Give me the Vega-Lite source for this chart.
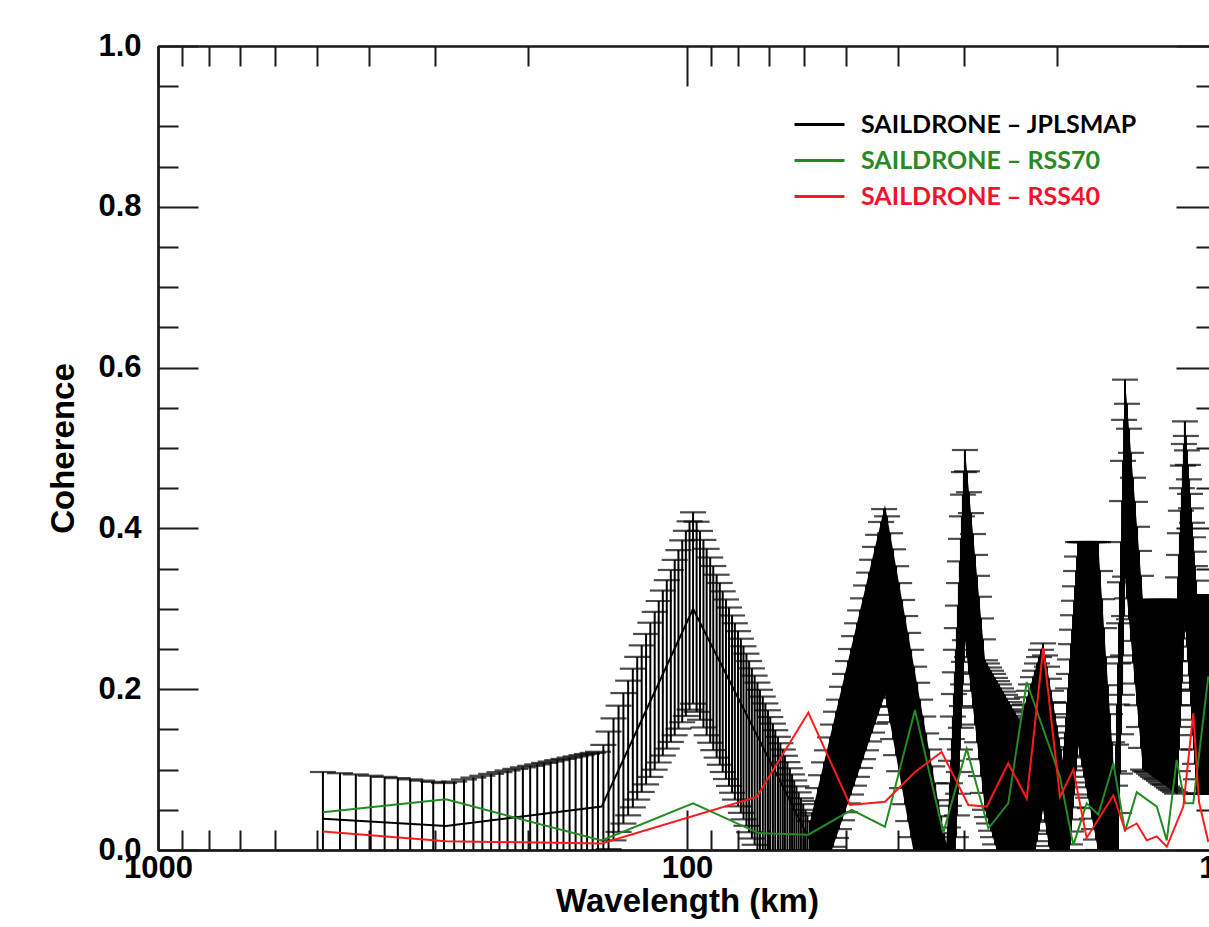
{
  "$schema": "https://vega.github.io/schema/vega-lite/v6.json",
  "width": 1058,
  "height": 804,
  "autosize": {"type": "none"},
  "padding": {"left": 158, "top": 46, "right": -7, "bottom": 77},
  "background": "white",
  "config": {
    "view": {"stroke": null},
    "axis": {
      "grid": false,
      "domainColor": "#1a1a1a",
      "domainWidth": 2,
      "tickColor": "#1a1a1a",
      "tickWidth": 2,
      "labelFont": "Liberation Sans",
      "labelFontWeight": "bold",
      "labelFontSize": 31,
      "labelColor": "black",
      "titleFont": "Liberation Sans",
      "titleFontWeight": "bold",
      "titleFontSize": 33,
      "titleColor": "black",
      "labelFlush": false,
      "labelOverlap": false,
      "labelBound": false
    }
  },
  "datasets": {
    "bars": [
      {"wl": 487.8, "lo": -0.02, "hi": 0.097},
      {"wl": 452.9, "lo": -0.02, "hi": 0.0955},
      {"wl": 422.7, "lo": -0.02, "hi": 0.094},
      {"wl": 396.2, "lo": -0.02, "hi": 0.0924},
      {"wl": 372.9, "lo": -0.021, "hi": 0.0909},
      {"wl": 352.1, "lo": -0.021, "hi": 0.0894},
      {"wl": 333.6, "lo": -0.022, "hi": 0.0878},
      {"wl": 316.9, "lo": -0.022, "hi": 0.0863},
      {"wl": 301.8, "lo": -0.023, "hi": 0.0848},
      {"wl": 288.0, "lo": -0.023, "hi": 0.0833},
      {"wl": 275.5, "lo": -0.023, "hi": 0.0851},
      {"wl": 264.0, "lo": -0.022, "hi": 0.0877},
      {"wl": 253.4, "lo": -0.022, "hi": 0.0901},
      {"wl": 243.7, "lo": -0.021, "hi": 0.0924},
      {"wl": 234.6, "lo": -0.021, "hi": 0.0947},
      {"wl": 226.2, "lo": -0.02, "hi": 0.0968},
      {"wl": 218.4, "lo": -0.02, "hi": 0.0989},
      {"wl": 211.1, "lo": -0.02, "hi": 0.1009},
      {"wl": 204.3, "lo": -0.019, "hi": 0.1028},
      {"wl": 197.9, "lo": -0.019, "hi": 0.1047},
      {"wl": 191.9, "lo": -0.018, "hi": 0.1065},
      {"wl": 186.3, "lo": -0.018, "hi": 0.1083},
      {"wl": 181.0, "lo": -0.018, "hi": 0.11},
      {"wl": 175.9, "lo": -0.017, "hi": 0.1117},
      {"wl": 171.2, "lo": -0.017, "hi": 0.1133},
      {"wl": 166.7, "lo": -0.017, "hi": 0.1149},
      {"wl": 162.4, "lo": -0.016, "hi": 0.1164},
      {"wl": 158.3, "lo": -0.016, "hi": 0.1179},
      {"wl": 154.5, "lo": -0.016, "hi": 0.1194},
      {"wl": 150.8, "lo": -0.015, "hi": 0.1208},
      {"wl": 147.3, "lo": -0.015, "hi": 0.1222},
      {"wl": 143.9, "lo": -0.0099, "hi": 0.1307},
      {"wl": 140.7, "lo": 0.0011, "hi": 0.1473},
      {"wl": 137.7, "lo": 0.012, "hi": 0.1637},
      {"wl": 134.7, "lo": 0.0225, "hi": 0.1795},
      {"wl": 131.9, "lo": 0.0329, "hi": 0.1952},
      {"wl": 129.2, "lo": 0.0431, "hi": 0.2106},
      {"wl": 126.6, "lo": 0.053, "hi": 0.2255},
      {"wl": 124.2, "lo": 0.0627, "hi": 0.2402},
      {"wl": 121.8, "lo": 0.0722, "hi": 0.2545},
      {"wl": 119.5, "lo": 0.0816, "hi": 0.2687},
      {"wl": 117.3, "lo": 0.0909, "hi": 0.2827},
      {"wl": 115.1, "lo": 0.0999, "hi": 0.2962},
      {"wl": 113.1, "lo": 0.1088, "hi": 0.3097},
      {"wl": 111.1, "lo": 0.1175, "hi": 0.3227},
      {"wl": 109.2, "lo": 0.1261, "hi": 0.3356},
      {"wl": 107.3, "lo": 0.1344, "hi": 0.3483},
      {"wl": 105.5, "lo": 0.1427, "hi": 0.3608},
      {"wl": 103.8, "lo": 0.1509, "hi": 0.373},
      {"wl": 102.1, "lo": 0.1589, "hi": 0.3852},
      {"wl": 100.5, "lo": 0.1667, "hi": 0.397},
      {"wl": 98.9, "lo": 0.1746, "hi": 0.4088},
      {"wl": 97.4, "lo": 0.182, "hi": 0.42},
      {"wl": 95.9, "lo": 0.1719, "hi": 0.4083},
      {"wl": 94.5, "lo": 0.162, "hi": 0.3969},
      {"wl": 93.1, "lo": 0.1524, "hi": 0.3857},
      {"wl": 91.8, "lo": 0.1427, "hi": 0.3746},
      {"wl": 90.4, "lo": 0.1334, "hi": 0.3638},
      {"wl": 89.2, "lo": 0.1242, "hi": 0.3532},
      {"wl": 87.9, "lo": 0.1149, "hi": 0.3424},
      {"wl": 86.7, "lo": 0.106, "hi": 0.3321},
      {"wl": 85.6, "lo": 0.097, "hi": 0.3217},
      {"wl": 84.4, "lo": 0.0883, "hi": 0.3116},
      {"wl": 83.3, "lo": 0.0797, "hi": 0.3016},
      {"wl": 82.2, "lo": 0.0712, "hi": 0.2917},
      {"wl": 81.2, "lo": 0.0627, "hi": 0.282},
      {"wl": 80.1, "lo": 0.0543, "hi": 0.2722},
      {"wl": 79.1, "lo": 0.0462, "hi": 0.2628},
      {"wl": 78.2, "lo": 0.0381, "hi": 0.2534},
      {"wl": 77.2, "lo": 0.0301, "hi": 0.2442},
      {"wl": 76.3, "lo": 0.0221, "hi": 0.235},
      {"wl": 75.4, "lo": 0.0143, "hi": 0.2259},
      {"wl": 74.5, "lo": 0.0065, "hi": 0.2169},
      {"wl": 73.6, "lo": -0.001, "hi": 0.2082},
      {"wl": 72.8, "lo": -0.0087, "hi": 0.1993},
      {"wl": 71.9, "lo": -0.0161, "hi": 0.1908},
      {"wl": 71.1, "lo": -0.0234, "hi": 0.1823},
      {"wl": 70.3, "lo": -0.0308, "hi": 0.1738},
      {"wl": 69.6, "lo": -0.038, "hi": 0.1654},
      {"wl": 68.8, "lo": -0.0451, "hi": 0.1572},
      {"wl": 68.1, "lo": -0.0522, "hi": 0.149},
      {"wl": 67.3, "lo": -0.0592, "hi": 0.1408},
      {"wl": 66.6, "lo": -0.0661, "hi": 0.1328},
      {"wl": 65.9, "lo": -0.0729, "hi": 0.125},
      {"wl": 65.3, "lo": -0.0797, "hi": 0.1172},
      {"wl": 64.6, "lo": -0.0864, "hi": 0.1093},
      {"wl": 63.9, "lo": -0.0931, "hi": 0.1017},
      {"wl": 63.3, "lo": -0.0997, "hi": 0.094},
      {"wl": 62.7, "lo": -0.1062, "hi": 0.0865},
      {"wl": 62.1, "lo": -0.1125, "hi": 0.0792},
      {"wl": 61.5, "lo": -0.119, "hi": 0.0717},
      {"wl": 60.9, "lo": -0.1253, "hi": 0.0644},
      {"wl": 60.3, "lo": -0.1316, "hi": 0.0571},
      {"wl": 59.7, "lo": -0.1378, "hi": 0.05},
      {"wl": 59.2, "lo": -0.1438, "hi": 0.043},
      {"wl": 58.6, "lo": -0.15, "hi": 0.0359},
      {"wl": 58.04, "lo": -0.073, "hi": 0.046},
      {"wl": 57.29, "lo": -0.062, "hi": 0.061},
      {"wl": 56.54, "lo": -0.051, "hi": 0.077},
      {"wl": 55.81, "lo": -0.04, "hi": 0.093},
      {"wl": 55.08, "lo": -0.029, "hi": 0.109},
      {"wl": 54.37, "lo": -0.018, "hi": 0.124},
      {"wl": 53.66, "lo": -0.007, "hi": 0.14},
      {"wl": 52.96, "lo": 0.004, "hi": 0.156},
      {"wl": 52.28, "lo": 0.015, "hi": 0.172},
      {"wl": 51.6, "lo": 0.026, "hi": 0.187},
      {"wl": 50.93, "lo": 0.037, "hi": 0.203},
      {"wl": 50.27, "lo": 0.047, "hi": 0.219},
      {"wl": 49.61, "lo": 0.058, "hi": 0.235},
      {"wl": 48.97, "lo": 0.069, "hi": 0.25},
      {"wl": 48.33, "lo": 0.08, "hi": 0.266},
      {"wl": 47.7, "lo": 0.091, "hi": 0.282},
      {"wl": 47.08, "lo": 0.102, "hi": 0.298},
      {"wl": 46.47, "lo": 0.113, "hi": 0.313},
      {"wl": 45.87, "lo": 0.124, "hi": 0.329},
      {"wl": 45.27, "lo": 0.135, "hi": 0.345},
      {"wl": 44.68, "lo": 0.146, "hi": 0.361},
      {"wl": 44.1, "lo": 0.157, "hi": 0.377},
      {"wl": 43.53, "lo": 0.168, "hi": 0.392},
      {"wl": 42.97, "lo": 0.178, "hi": 0.408},
      {"wl": 42.41, "lo": 0.189, "hi": 0.424},
      {"wl": 41.86, "lo": 0.179, "hi": 0.415},
      {"wl": 41.31, "lo": 0.159, "hi": 0.394},
      {"wl": 40.78, "lo": 0.138, "hi": 0.374},
      {"wl": 40.25, "lo": 0.118, "hi": 0.353},
      {"wl": 39.72, "lo": 0.098, "hi": 0.332},
      {"wl": 39.21, "lo": 0.077, "hi": 0.311},
      {"wl": 38.7, "lo": 0.057, "hi": 0.291},
      {"wl": 38.19, "lo": 0.036, "hi": 0.27},
      {"wl": 37.7, "lo": 0.016, "hi": 0.249},
      {"wl": 37.21, "lo": -0.005, "hi": 0.228},
      {"wl": 36.72, "lo": -0.025, "hi": 0.208},
      {"wl": 36.25, "lo": -0.046, "hi": 0.187},
      {"wl": 35.77, "lo": -0.066, "hi": 0.166},
      {"wl": 35.31, "lo": -0.087, "hi": 0.145},
      {"wl": 34.85, "lo": -0.107, "hi": 0.125},
      {"wl": 34.4, "lo": -0.128, "hi": 0.104},
      {"wl": 33.95, "lo": -0.148, "hi": 0.083},
      {"wl": 33.51, "lo": -0.169, "hi": 0.062},
      {"wl": 33.07, "lo": -0.189, "hi": 0.042},
      {"wl": 32.64, "lo": -0.21, "hi": 0.021},
      {"wl": 32.26, "lo": -0.23, "hi": 0.0},
      {"wl": 32.12, "lo": -0.203, "hi": 0.028},
      {"wl": 31.98, "lo": -0.175, "hi": 0.055},
      {"wl": 31.84, "lo": -0.148, "hi": 0.083},
      {"wl": 31.7, "lo": -0.121, "hi": 0.111},
      {"wl": 31.57, "lo": -0.094, "hi": 0.138},
      {"wl": 31.43, "lo": -0.066, "hi": 0.166},
      {"wl": 31.29, "lo": -0.039, "hi": 0.194},
      {"wl": 31.16, "lo": -0.012, "hi": 0.221},
      {"wl": 31.02, "lo": 0.016, "hi": 0.249},
      {"wl": 30.89, "lo": 0.043, "hi": 0.276},
      {"wl": 30.75, "lo": 0.07, "hi": 0.304},
      {"wl": 30.62, "lo": 0.097, "hi": 0.332},
      {"wl": 30.49, "lo": 0.125, "hi": 0.359},
      {"wl": 30.35, "lo": 0.152, "hi": 0.387},
      {"wl": 30.22, "lo": 0.179, "hi": 0.415},
      {"wl": 30.09, "lo": 0.206, "hi": 0.442},
      {"wl": 29.96, "lo": 0.234, "hi": 0.47},
      {"wl": 29.83, "lo": 0.261, "hi": 0.4975},
      {"wl": 29.56, "lo": 0.24, "hi": 0.471},
      {"wl": 29.31, "lo": 0.219, "hi": 0.445},
      {"wl": 29.05, "lo": 0.198, "hi": 0.419},
      {"wl": 28.8, "lo": 0.177, "hi": 0.393},
      {"wl": 28.55, "lo": 0.156, "hi": 0.367},
      {"wl": 28.3, "lo": 0.134, "hi": 0.341},
      {"wl": 28.06, "lo": 0.113, "hi": 0.315},
      {"wl": 27.81, "lo": 0.092, "hi": 0.288},
      {"wl": 27.57, "lo": 0.071, "hi": 0.262},
      {"wl": 27.33, "lo": 0.05, "hi": 0.236},
      {"wl": 27.1, "lo": 0.041, "hi": 0.232},
      {"wl": 26.86, "lo": 0.033, "hi": 0.227},
      {"wl": 26.63, "lo": 0.024, "hi": 0.223},
      {"wl": 26.4, "lo": 0.016, "hi": 0.219},
      {"wl": 26.17, "lo": 0.007, "hi": 0.214},
      {"wl": 25.94, "lo": -0.001, "hi": 0.21},
      {"wl": 25.72, "lo": -0.01, "hi": 0.206},
      {"wl": 25.49, "lo": -0.019, "hi": 0.201},
      {"wl": 25.27, "lo": -0.027, "hi": 0.197},
      {"wl": 25.05, "lo": -0.036, "hi": 0.193},
      {"wl": 24.84, "lo": -0.044, "hi": 0.188},
      {"wl": 24.62, "lo": -0.053, "hi": 0.184},
      {"wl": 24.41, "lo": -0.061, "hi": 0.18},
      {"wl": 24.2, "lo": -0.07, "hi": 0.175},
      {"wl": 23.99, "lo": -0.079, "hi": 0.171},
      {"wl": 23.78, "lo": -0.087, "hi": 0.167},
      {"wl": 23.57, "lo": -0.096, "hi": 0.162},
      {"wl": 23.37, "lo": -0.094, "hi": 0.164},
      {"wl": 23.17, "lo": -0.08, "hi": 0.173},
      {"wl": 22.97, "lo": -0.067, "hi": 0.181},
      {"wl": 22.77, "lo": -0.054, "hi": 0.19},
      {"wl": 22.57, "lo": -0.041, "hi": 0.198},
      {"wl": 22.37, "lo": -0.028, "hi": 0.206},
      {"wl": 22.18, "lo": -0.015, "hi": 0.215},
      {"wl": 21.99, "lo": -0.002, "hi": 0.223},
      {"wl": 21.8, "lo": 0.011, "hi": 0.232},
      {"wl": 21.61, "lo": 0.024, "hi": 0.24},
      {"wl": 21.42, "lo": 0.037, "hi": 0.249},
      {"wl": 21.23, "lo": 0.05, "hi": 0.257},
      {"wl": 21.05, "lo": 0.035, "hi": 0.242},
      {"wl": 20.87, "lo": 0.02, "hi": 0.228},
      {"wl": 20.69, "lo": 0.005, "hi": 0.213},
      {"wl": 20.51, "lo": -0.01, "hi": 0.198},
      {"wl": 20.33, "lo": -0.025, "hi": 0.184},
      {"wl": 20.16, "lo": -0.04, "hi": 0.169},
      {"wl": 19.98, "lo": -0.055, "hi": 0.154},
      {"wl": 19.81, "lo": -0.07, "hi": 0.139},
      {"wl": 19.64, "lo": -0.085, "hi": 0.125},
      {"wl": 19.47, "lo": -0.1, "hi": 0.11},
      {"wl": 19.38, "lo": -0.085, "hi": 0.128},
      {"wl": 19.3, "lo": -0.069, "hi": 0.146},
      {"wl": 19.21, "lo": -0.054, "hi": 0.165},
      {"wl": 19.13, "lo": -0.039, "hi": 0.183},
      {"wl": 19.04, "lo": -0.023, "hi": 0.201},
      {"wl": 18.96, "lo": -0.008, "hi": 0.219},
      {"wl": 18.88, "lo": 0.007, "hi": 0.237},
      {"wl": 18.8, "lo": 0.023, "hi": 0.256},
      {"wl": 18.71, "lo": 0.038, "hi": 0.274},
      {"wl": 18.63, "lo": 0.053, "hi": 0.292},
      {"wl": 18.55, "lo": 0.069, "hi": 0.31},
      {"wl": 18.47, "lo": 0.084, "hi": 0.328},
      {"wl": 18.39, "lo": 0.099, "hi": 0.347},
      {"wl": 18.31, "lo": 0.115, "hi": 0.365},
      {"wl": 18.23, "lo": 0.13, "hi": 0.383},
      {"wl": 18.07, "lo": 0.117, "hi": 0.383},
      {"wl": 17.92, "lo": 0.104, "hi": 0.383},
      {"wl": 17.76, "lo": 0.091, "hi": 0.383},
      {"wl": 17.61, "lo": 0.078, "hi": 0.383},
      {"wl": 17.45, "lo": 0.065, "hi": 0.383},
      {"wl": 17.3, "lo": 0.052, "hi": 0.383},
      {"wl": 17.15, "lo": 0.039, "hi": 0.383},
      {"wl": 17.0, "lo": 0.026, "hi": 0.383},
      {"wl": 16.86, "lo": 0.013, "hi": 0.383},
      {"wl": 16.71, "lo": 0.0, "hi": 0.383},
      {"wl": 16.57, "lo": -0.018, "hi": 0.347},
      {"wl": 16.42, "lo": -0.035, "hi": 0.312},
      {"wl": 16.28, "lo": -0.053, "hi": 0.276},
      {"wl": 16.14, "lo": -0.071, "hi": 0.24},
      {"wl": 16.0, "lo": -0.088, "hi": 0.205},
      {"wl": 15.86, "lo": -0.106, "hi": 0.169},
      {"wl": 15.72, "lo": -0.124, "hi": 0.134},
      {"wl": 15.59, "lo": -0.141, "hi": 0.098},
      {"wl": 15.52, "lo": -0.15, "hi": 0.08},
      {"wl": 15.45, "lo": -0.101, "hi": 0.131},
      {"wl": 15.39, "lo": -0.052, "hi": 0.181},
      {"wl": 15.32, "lo": -0.003, "hi": 0.232},
      {"wl": 15.25, "lo": 0.046, "hi": 0.282},
      {"wl": 15.19, "lo": 0.095, "hi": 0.333},
      {"wl": 15.12, "lo": 0.144, "hi": 0.383},
      {"wl": 15.05, "lo": 0.193, "hi": 0.434},
      {"wl": 14.99, "lo": 0.242, "hi": 0.484},
      {"wl": 14.92, "lo": 0.291, "hi": 0.535},
      {"wl": 14.86, "lo": 0.34, "hi": 0.585},
      {"wl": 14.73, "lo": 0.313, "hi": 0.555},
      {"wl": 14.6, "lo": 0.287, "hi": 0.524},
      {"wl": 14.48, "lo": 0.26, "hi": 0.494},
      {"wl": 14.35, "lo": 0.233, "hi": 0.463},
      {"wl": 14.23, "lo": 0.207, "hi": 0.433},
      {"wl": 14.1, "lo": 0.18, "hi": 0.402},
      {"wl": 13.98, "lo": 0.153, "hi": 0.372},
      {"wl": 13.86, "lo": 0.127, "hi": 0.341},
      {"wl": 13.74, "lo": 0.1, "hi": 0.311},
      {"wl": 13.62, "lo": 0.098, "hi": 0.311},
      {"wl": 13.5, "lo": 0.097, "hi": 0.311},
      {"wl": 13.39, "lo": 0.095, "hi": 0.311},
      {"wl": 13.27, "lo": 0.093, "hi": 0.311},
      {"wl": 13.16, "lo": 0.091, "hi": 0.311},
      {"wl": 13.04, "lo": 0.089, "hi": 0.311},
      {"wl": 12.93, "lo": 0.088, "hi": 0.311},
      {"wl": 12.82, "lo": 0.086, "hi": 0.311},
      {"wl": 12.71, "lo": 0.084, "hi": 0.311},
      {"wl": 12.6, "lo": 0.082, "hi": 0.311},
      {"wl": 12.49, "lo": 0.081, "hi": 0.311},
      {"wl": 12.38, "lo": 0.079, "hi": 0.311},
      {"wl": 12.27, "lo": 0.077, "hi": 0.311},
      {"wl": 12.17, "lo": 0.075, "hi": 0.311},
      {"wl": 12.06, "lo": 0.074, "hi": 0.311},
      {"wl": 11.96, "lo": 0.072, "hi": 0.311},
      {"wl": 11.85, "lo": 0.07, "hi": 0.311},
      {"wl": 11.8, "lo": 0.098, "hi": 0.339},
      {"wl": 11.75, "lo": 0.125, "hi": 0.367},
      {"wl": 11.7, "lo": 0.153, "hi": 0.394},
      {"wl": 11.65, "lo": 0.18, "hi": 0.422},
      {"wl": 11.6, "lo": 0.208, "hi": 0.45},
      {"wl": 11.55, "lo": 0.235, "hi": 0.478},
      {"wl": 11.5, "lo": 0.263, "hi": 0.505},
      {"wl": 11.45, "lo": 0.29, "hi": 0.533},
      {"wl": 11.4, "lo": 0.272, "hi": 0.515},
      {"wl": 11.35, "lo": 0.253, "hi": 0.497},
      {"wl": 11.3, "lo": 0.235, "hi": 0.479},
      {"wl": 11.25, "lo": 0.217, "hi": 0.461},
      {"wl": 11.2, "lo": 0.198, "hi": 0.443},
      {"wl": 11.15, "lo": 0.18, "hi": 0.425},
      {"wl": 11.1, "lo": 0.162, "hi": 0.407},
      {"wl": 11.05, "lo": 0.143, "hi": 0.389},
      {"wl": 11.01, "lo": 0.125, "hi": 0.371},
      {"wl": 10.96, "lo": 0.107, "hi": 0.353},
      {"wl": 10.91, "lo": 0.088, "hi": 0.335},
      {"wl": 10.86, "lo": 0.07, "hi": 0.317},
      {"wl": 10.77, "lo": 0.07, "hi": 0.317},
      {"wl": 10.68, "lo": 0.07, "hi": 0.317},
      {"wl": 10.58, "lo": 0.07, "hi": 0.317},
      {"wl": 10.49, "lo": 0.07, "hi": 0.317},
      {"wl": 10.4, "lo": 0.07, "hi": 0.317},
      {"wl": 10.31, "lo": 0.07, "hi": 0.317}
    ],
    "band": [
      {"wl": 58.56, "lo": -0.08, "hi": 0.035},
      {"wl": 42.24, "lo": 0.193, "hi": 0.429},
      {"wl": 32.26, "lo": -0.23, "hi": 0.0},
      {"wl": 29.82, "lo": 0.261, "hi": 0.4975},
      {"wl": 27.32, "lo": 0.05, "hi": 0.236},
      {"wl": 23.47, "lo": -0.1, "hi": 0.16},
      {"wl": 21.23, "lo": 0.05, "hi": 0.257},
      {"wl": 19.46, "lo": -0.1, "hi": 0.11},
      {"wl": 18.23, "lo": 0.13, "hi": 0.383},
      {"wl": 16.71, "lo": 0.0, "hi": 0.383},
      {"wl": 15.52, "lo": -0.15, "hi": 0.08},
      {"wl": 14.86, "lo": 0.34, "hi": 0.585},
      {"wl": 13.74, "lo": 0.1, "hi": 0.311},
      {"wl": 11.85, "lo": 0.07, "hi": 0.311},
      {"wl": 11.44, "lo": 0.29, "hi": 0.533},
      {"wl": 10.86, "lo": 0.07, "hi": 0.317},
      {"wl": 10.0, "lo": 0.07, "hi": 0.317}
    ],
    "lines": [
      {"series": "SAILDRONE – JPLSMAP", "wl": 487.7, "coh": 0.039},
      {"series": "SAILDRONE – JPLSMAP", "wl": 285.5, "coh": 0.03},
      {"series": "SAILDRONE – JPLSMAP", "wl": 145.0, "coh": 0.054},
      {"series": "SAILDRONE – JPLSMAP", "wl": 97.4, "coh": 0.3},
      {"series": "SAILDRONE – JPLSMAP", "wl": 58.97, "coh": 0.016},
      {"series": "SAILDRONE – JPLSMAP", "wl": 42.24, "coh": 0.31},
      {"series": "SAILDRONE – JPLSMAP", "wl": 32.26, "coh": 0.0},
      {"series": "SAILDRONE – JPLSMAP", "wl": 29.82, "coh": 0.379},
      {"series": "SAILDRONE – JPLSMAP", "wl": 27.32, "coh": 0.143},
      {"series": "SAILDRONE – JPLSMAP", "wl": 23.47, "coh": 0.03},
      {"series": "SAILDRONE – JPLSMAP", "wl": 21.23, "coh": 0.154},
      {"series": "SAILDRONE – JPLSMAP", "wl": 19.46, "coh": 0.005},
      {"series": "SAILDRONE – JPLSMAP", "wl": 18.23, "coh": 0.257},
      {"series": "SAILDRONE – JPLSMAP", "wl": 16.71, "coh": 0.19},
      {"series": "SAILDRONE – JPLSMAP", "wl": 15.52, "coh": 0.0},
      {"series": "SAILDRONE – JPLSMAP", "wl": 14.86, "coh": 0.46},
      {"series": "SAILDRONE – JPLSMAP", "wl": 13.74, "coh": 0.205},
      {"series": "SAILDRONE – JPLSMAP", "wl": 11.85, "coh": 0.19},
      {"series": "SAILDRONE – JPLSMAP", "wl": 11.44, "coh": 0.41},
      {"series": "SAILDRONE – JPLSMAP", "wl": 10.86, "coh": 0.19},
      {"series": "SAILDRONE – JPLSMAP", "wl": 10.0, "coh": 0.19},
      {"series": "SAILDRONE – RSS70", "wl": 487.7, "coh": 0.047},
      {"series": "SAILDRONE – RSS70", "wl": 285.5, "coh": 0.063},
      {"series": "SAILDRONE – RSS70", "wl": 145.0, "coh": 0.012},
      {"series": "SAILDRONE – RSS70", "wl": 97.4, "coh": 0.058},
      {"series": "SAILDRONE – RSS70", "wl": 73.3, "coh": 0.021},
      {"series": "SAILDRONE – RSS70", "wl": 58.97, "coh": 0.019},
      {"series": "SAILDRONE – RSS70", "wl": 48.83, "coh": 0.05},
      {"series": "SAILDRONE – RSS70", "wl": 42.24, "coh": 0.029},
      {"series": "SAILDRONE – RSS70", "wl": 37.07, "coh": 0.174},
      {"series": "SAILDRONE – RSS70", "wl": 32.78, "coh": 0.021},
      {"series": "SAILDRONE – RSS70", "wl": 29.6, "coh": 0.126},
      {"series": "SAILDRONE – RSS70", "wl": 26.93, "coh": 0.027},
      {"series": "SAILDRONE – RSS70", "wl": 24.7, "coh": 0.058},
      {"series": "SAILDRONE – RSS70", "wl": 22.79, "coh": 0.209},
      {"series": "SAILDRONE – RSS70", "wl": 19.72, "coh": 0.091},
      {"series": "SAILDRONE – RSS70", "wl": 18.61, "coh": 0.006},
      {"series": "SAILDRONE – RSS70", "wl": 17.56, "coh": 0.058},
      {"series": "SAILDRONE – RSS70", "wl": 16.69, "coh": 0.044},
      {"series": "SAILDRONE – RSS70", "wl": 15.63, "coh": 0.108},
      {"series": "SAILDRONE – RSS70", "wl": 14.86, "coh": 0.023},
      {"series": "SAILDRONE – RSS70", "wl": 14.12, "coh": 0.072},
      {"series": "SAILDRONE – RSS70", "wl": 12.94, "coh": 0.054},
      {"series": "SAILDRONE – RSS70", "wl": 12.39, "coh": 0.012},
      {"series": "SAILDRONE – RSS70", "wl": 11.87, "coh": 0.112},
      {"series": "SAILDRONE – RSS70", "wl": 11.44, "coh": 0.058},
      {"series": "SAILDRONE – RSS70", "wl": 11.04, "coh": 0.058},
      {"series": "SAILDRONE – RSS70", "wl": 10.34, "coh": 0.216},
      {"series": "SAILDRONE – RSS40", "wl": 487.7, "coh": 0.023},
      {"series": "SAILDRONE – RSS40", "wl": 285.5, "coh": 0.011},
      {"series": "SAILDRONE – RSS40", "wl": 145.0, "coh": 0.008},
      {"series": "SAILDRONE – RSS40", "wl": 73.82, "coh": 0.066},
      {"series": "SAILDRONE – RSS40", "wl": 58.97, "coh": 0.171},
      {"series": "SAILDRONE – RSS40", "wl": 49.19, "coh": 0.056},
      {"series": "SAILDRONE – RSS40", "wl": 42.24, "coh": 0.06},
      {"series": "SAILDRONE – RSS40", "wl": 37.07, "coh": 0.097},
      {"series": "SAILDRONE – RSS40", "wl": 33.01, "coh": 0.122},
      {"series": "SAILDRONE – RSS40", "wl": 29.39, "coh": 0.056},
      {"series": "SAILDRONE – RSS40", "wl": 27.12, "coh": 0.054},
      {"series": "SAILDRONE – RSS40", "wl": 24.7, "coh": 0.108},
      {"series": "SAILDRONE – RSS40", "wl": 22.79, "coh": 0.064},
      {"series": "SAILDRONE – RSS40", "wl": 21.21, "coh": 0.251},
      {"series": "SAILDRONE – RSS40", "wl": 19.72, "coh": 0.066},
      {"series": "SAILDRONE – RSS40", "wl": 18.61, "coh": 0.1},
      {"series": "SAILDRONE – RSS40", "wl": 17.56, "coh": 0.015},
      {"series": "SAILDRONE – RSS40", "wl": 15.63, "coh": 0.068},
      {"series": "SAILDRONE – RSS40", "wl": 14.86, "coh": 0.025},
      {"series": "SAILDRONE – RSS40", "wl": 14.12, "coh": 0.033},
      {"series": "SAILDRONE – RSS40", "wl": 13.52, "coh": 0.012},
      {"series": "SAILDRONE – RSS40", "wl": 12.94, "coh": 0.017},
      {"series": "SAILDRONE – RSS40", "wl": 12.39, "coh": 0.004},
      {"series": "SAILDRONE – RSS40", "wl": 11.53, "coh": 0.054},
      {"series": "SAILDRONE – RSS40", "wl": 11.04, "coh": 0.17},
      {"series": "SAILDRONE – RSS40", "wl": 10.77, "coh": 0.06},
      {"series": "SAILDRONE – RSS40", "wl": 10.34, "coh": 0.01}
    ]
  },
  "layer": [
    {
      "data": {"name": "bars"},
      "mark": {"type": "rule", "color": "black", "strokeWidth": 2, "clip": true},
      "encoding": {
        "x": {
          "field": "wl", "type": "quantitative",
          "scale": {"type": "log", "domain": [10, 1000], "reverse": true, "nice": false},
          "axis": {"orient": "bottom", "values": [1000, 100, 10], "format": "d", "ticks": false, "labelPadding": 3, "title": "Wavelength (km)", "titlePadding": 2}
        },
        "y": {
          "field": "lo", "type": "quantitative",
          "scale": {"domain": [0, 1], "nice": false, "zero": false},
          "axis": {"orient": "left", "values": [0, 0.2, 0.4, 0.6, 0.8, 1], "format": ".1f", "ticks": false, "labelPadding": 17, "title": "Coherence", "titlePadding": 17}
        },
        "y2": {"field": "hi"}
      }
    },
    {
      "data": {"name": "bars"},
      "mark": {"type": "tick", "orient": "horizontal", "size": 26, "thickness": 2.2, "color": "black", "clip": true},
      "encoding": {
        "x": {"field": "wl", "type": "quantitative",
          "axis": {"orient": "bottom", "values": [1000, 100, 10], "labels": false, "tickSize": -40, "title": null}},
        "y": {"field": "hi", "type": "quantitative",
          "axis": {"orient": "left", "values": [0, 0.2, 0.4, 0.6, 0.8, 1], "labels": false, "tickSize": -40, "title": null}}
      }
    },
    {
      "data": {"name": "bars"},
      "mark": {"type": "tick", "orient": "horizontal", "size": 26, "thickness": 2.2, "color": "black", "clip": true},
      "encoding": {
        "x": {"field": "wl", "type": "quantitative",
          "axis": {"orient": "bottom", "values": [900, 800, 700, 600, 500, 400, 300, 200, 90, 80, 70, 60, 50, 40, 30, 20], "labels": false, "tickSize": -20, "title": null}},
        "y": {"field": "lo", "type": "quantitative",
          "axis": {"orient": "left", "values": [0.05, 0.1, 0.15, 0.25, 0.3, 0.35, 0.45, 0.5, 0.55, 0.65, 0.7, 0.75, 0.85, 0.9, 0.95], "labels": false, "tickSize": -20, "title": null}}
      }
    },
    {
      "data": {"name": "band"},
      "mark": {"type": "area", "color": "black", "opacity": 1, "clip": true},
      "encoding": {
        "x": {"field": "wl", "type": "quantitative",
          "axis": {"orient": "top", "values": [1000, 100, 10], "labels": false, "tickSize": -40, "title": null}},
        "y": {"field": "lo", "type": "quantitative",
          "axis": {"orient": "right", "values": [0, 0.2, 0.4, 0.6, 0.8, 1], "labels": false, "tickSize": -40, "title": null}},
        "y2": {"field": "hi"}
      }
    },
    {
      "data": {"name": "lines"},
      "mark": {"type": "line", "strokeWidth": 2, "clip": true},
      "encoding": {
        "x": {"field": "wl", "type": "quantitative",
          "axis": {"orient": "top", "values": [900, 800, 700, 600, 500, 400, 300, 200, 90, 80, 70, 60, 50, 40, 30, 20], "labels": false, "tickSize": -20, "title": null}},
        "y": {"field": "coh", "type": "quantitative",
          "axis": {"orient": "right", "values": [0.05, 0.1, 0.15, 0.25, 0.3, 0.35, 0.45, 0.5, 0.55, 0.65, 0.7, 0.75, 0.85, 0.9, 0.95], "labels": false, "tickSize": -20, "title": null}},
        "color": {
          "field": "series", "type": "nominal",
          "scale": {"domain": ["SAILDRONE – JPLSMAP", "SAILDRONE – RSS70", "SAILDRONE – RSS40"], "range": ["#000000", "#228b22", "#ff1a1a"]},
          "legend": {
            "orient": "none", "legendX": 649, "legendY": 66, "title": null,
            "symbolType": "M-2.5,0H2.5", "symbolSize": 400, "symbolStrokeWidth": 3.2,
            "labelFont": "Lato", "labelFontWeight": "bold", "labelFontSize": 25, "labelOffset": 29,
            "rowPadding": 10, "labelLimit": 0,
            "encode": {
              "labels": {"update": {"fill": {"signal": "datum.index === 0 ? '#000000' : datum.index === 1 ? '#2a8a22' : '#f0142a'"}}}
            }
          }
        }
      }
    }
  ],
  "resolve": {
    "scale": {"x": "shared", "y": "shared"},
    "axis": {"x": "independent", "y": "independent"}
  }
}
